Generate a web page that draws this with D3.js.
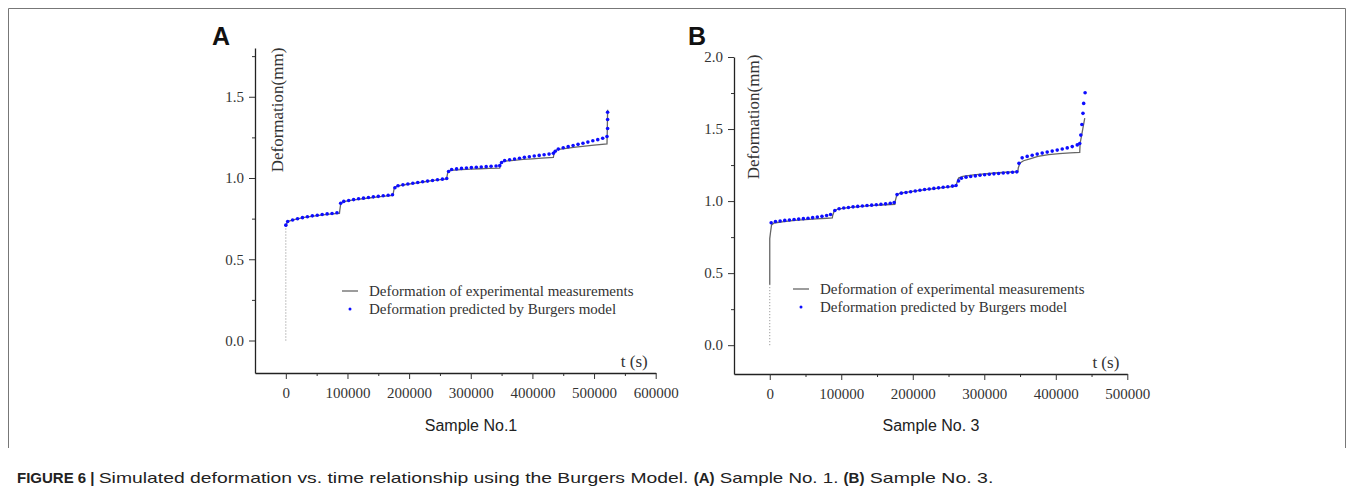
<!DOCTYPE html>
<html>
<head>
<meta charset="utf-8">
<script src="https://cdn.jsdelivr.net/npm/d3@7"></script>
<style>
  body { margin: 0; background: #fff; }
  svg { display: block; }
</style>
</head>
<body>
<div id="chart"></div>
<script>
// ---- data ----
// Sample No.1 : experimental curve, [t (s), deformation (mm)]
const expA = [[0,0.70],[2000,0.725],[5000,0.735],[15000,0.745],[30000,0.758],[45000,0.766],[60000,0.773],[75000,0.779],[87000,0.782],
  [87500,0.80],[89000,0.84],[92000,0.853],[105000,0.862],[120000,0.870],[135000,0.877],[150000,0.884],[165000,0.890],[174000,0.893],
  [174500,0.91],[176000,0.94],[180000,0.950],[195000,0.960],[210000,0.969],[225000,0.977],[240000,0.985],[255000,0.991],[261000,0.994],
  [261500,1.01],[263000,1.04],[268000,1.047],[285000,1.052],[300000,1.055],[315000,1.057],[330000,1.059],[347000,1.061],
  [347500,1.075],[349000,1.095],[353000,1.103],[370000,1.109],[385000,1.114],[400000,1.118],[415000,1.122],[434000,1.127],
  [434500,1.14],[436000,1.165],[440000,1.174],[455000,1.182],[470000,1.190],[485000,1.196],[500000,1.202],[521000,1.210],
  [521500,1.30],[522000,1.42]];
// initial loading (dotted)
const loadA = [[0,0],[0,0.70]];
// Sample No.1 : Burgers model prediction
const modA = [[0,0.71],[3000,0.732],[11000,0.742],[19000,0.749],[27000,0.756],[35000,0.762],[43000,0.767],[51000,0.771],[59000,0.775],[67000,0.779],[75000,0.782],[83000,0.786],
  [89000,0.845],[94000,0.856],[102000,0.862],[110000,0.867],[118000,0.872],[126000,0.876],[134000,0.880],[142000,0.884],[150000,0.887],[158000,0.891],[166000,0.894],[173000,0.897],
  [177000,0.94],[182000,0.952],[190000,0.958],[198000,0.963],[206000,0.968],[214000,0.972],[222000,0.977],[230000,0.981],[238000,0.985],[246000,0.989],[254000,0.993],[261000,0.997],
  [264000,1.04],[269000,1.052],[277000,1.056],[285000,1.059],[293000,1.062],[301000,1.064],[309000,1.066],[317000,1.068],[325000,1.070],[333000,1.072],[341000,1.074],[347000,1.076],
  [350000,1.095],[355000,1.107],[363000,1.112],[371000,1.117],[379000,1.122],[387000,1.127],[395000,1.131],[403000,1.135],[411000,1.139],[419000,1.143],[427000,1.147],[434000,1.152],
  [437000,1.165],[442000,1.178],[450000,1.186],[458000,1.193],[466000,1.200],[474000,1.207],[482000,1.214],[490000,1.221],[498000,1.229],[506000,1.236],[514000,1.245],[521000,1.255],
  [522000,1.305],[522000,1.36],[522000,1.405]];

// Sample No.3
const loadB = [[0,0],[0,0.42]];
const expB = [[0,0.42],[0,0.74],[1000,0.78],[2500,0.835],[6000,0.848],[20000,0.858],[35000,0.866],[50000,0.872],[65000,0.877],[80000,0.881],[87500,0.883],
  [88000,0.90],[90000,0.93],[95000,0.945],[110000,0.955],[125000,0.962],[140000,0.968],[155000,0.973],[175000,0.978],
  [175500,1.00],[177500,1.04],[182000,1.055],[200000,1.068],[215000,1.078],[230000,1.087],[245000,1.095],[261000,1.104],
  [261500,1.125],[264000,1.16],[270000,1.172],[285000,1.182],[300000,1.189],[315000,1.195],[330000,1.200],[347000,1.204],
  [347500,1.23],[350000,1.265],[355000,1.28],[365000,1.295],[375000,1.31],[390000,1.322],[405000,1.329],[420000,1.334],[433500,1.338],
  [434000,1.40],[437000,1.48],[440500,1.575]];
const modB = [[2000,0.85],[8000,0.858],[14500,0.862],[21000,0.866],[27500,0.869],[34000,0.872],[40500,0.875],[47000,0.878],[53500,0.881],[60000,0.885],[66500,0.889],[73000,0.894],[79500,0.900],[85000,0.907],
  [91000,0.935],[97000,0.947],[103500,0.952],[110000,0.956],[116500,0.960],[123000,0.963],[129500,0.966],[136000,0.969],[142500,0.972],[149000,0.975],[155500,0.978],[162000,0.981],[168500,0.985],[174000,0.990],
  [178000,1.045],[184000,1.055],[190500,1.060],[197000,1.065],[203500,1.070],[210000,1.075],[216500,1.080],[223000,1.084],[229500,1.088],[236000,1.092],[242500,1.096],[249000,1.100],[255500,1.104],[260500,1.108],
  [264000,1.14],[268000,1.158],[274500,1.166],[281000,1.171],[287500,1.175],[294000,1.179],[300500,1.183],[307000,1.186],[313500,1.189],[320000,1.192],[326500,1.195],[333000,1.197],[339500,1.200],[345500,1.203],
  [348500,1.262],[353000,1.300],[360000,1.310],[367000,1.318],[374000,1.326],[381000,1.333],[388000,1.340],[395000,1.347],[402000,1.354],[409000,1.361],[416000,1.369],[423000,1.378],[430000,1.390],[433500,1.40],
  [435000,1.458],[436500,1.532],[438000,1.609],[439000,1.678],[441000,1.752]];

const xTicksA = [0,100000,200000,300000,400000,500000,600000];
const xTicksB = [0,100000,200000,300000,400000,500000];
const yTicksA = [0,0.5,1.0,1.5];
const yTicksB = [0,0.5,1.0,1.5,2.0];
const legendLabels = ["Deformation of experimental measurements", "Deformation predicted by Burgers model"];

const width = 1354, height = 501;
const serif = "'Liberation Serif', 'Times New Roman', serif";
const sans = "'Liberation Sans', Arial, sans-serif";
const blue = "#0d0dff";

let svg = d3.select("#chart").append("svg")
  .attr("width", width).attr("height", height);

// frame round the figure
svg.append("path")
  .attr("d", "M8.5,448 V8.5 H1345.5 V448")
  .attr("fill", "none").attr("stroke", "#777").attr("stroke-width", 1);

function panel(o) {
  let x = d3.scaleLinear().domain(o.xDom).range(o.xRange);
  let y = d3.scaleLinear().domain(o.yDom).range(o.yRange);
  let g = svg.append("g");

  // minor ticks
  let xMinor = d3.range(50000, o.xDom[1], 100000);
  let yMinor = d3.range(0.25, o.yDom[1], 0.5);

  let bottom = o.yRange[0], left = o.xRange[0];

  g.append("g").attr("transform", `translate(0,${bottom})`)
    .call(d3.axisBottom(x).tickValues(xMinor).tickSize(3).tickFormat(""))
    .call(a => a.select(".domain").remove());
  g.append("g").attr("transform", `translate(${left},0)`)
    .call(d3.axisLeft(y).tickValues(yMinor).tickSize(3).tickFormat(""))
    .call(a => a.select(".domain").remove());

  let xa = g.append("g").attr("transform", `translate(0,${bottom})`)
    .call(d3.axisBottom(x).tickValues(o.xTicks).tickSize(6).tickSizeOuter(0).tickPadding(8).tickFormat(d3.format("d")));
  let ya = g.append("g").attr("transform", `translate(${left},0)`)
    .call(d3.axisLeft(y).tickValues(o.yTicks).tickSize(6).tickSizeOuter(0).tickPadding(5).tickFormat(d3.format(".1f")));

  g.selectAll(".tick line").attr("stroke", "#333");
  g.selectAll(".domain").attr("stroke", "#222").attr("stroke-width", 1.3);
  [xa, ya].forEach(a => a.selectAll("text")
    .attr("font-family", serif).attr("font-size", 15).attr("fill", "#333"));

  // axis titles
  g.append("text")
    .attr("transform", `translate(${o.yLabelX},${o.yLabelY}) rotate(-90)`)
    .attr("text-anchor", "middle").attr("dominant-baseline", "central")
    .attr("font-family", serif).attr("font-size", 17).attr("fill", "#333")
    .text("Deformation(mm)");
  g.append("text")
    .attr("x", o.xRange[1] - 8).attr("y", bottom - 6)
    .attr("text-anchor", "end")
    .attr("font-family", serif).attr("font-size", 17).attr("fill", "#333")
    .text("t (s)");

  // initial loading, dotted gray
  let line = d3.line().x(d => x(d[0])).y(d => y(d[1]));
  g.append("path").datum(o.load)
    .attr("d", line).attr("fill", "none")
    .attr("stroke", "#888").attr("stroke-width", 1).attr("stroke-dasharray", "1,2");

  // experimental curve
  g.append("path").datum(o.exp)
    .attr("d", line).attr("fill", "none")
    .attr("stroke", "#666").attr("stroke-width", 1.3);

  // model points
  g.selectAll(".pt").data(o.mod).join("circle")
    .attr("class", "pt")
    .attr("cx", d => x(d[0])).attr("cy", d => y(d[1]))
    .attr("r", 1.8).attr("fill", blue);

  // legend
  let lg = g.append("g").attr("transform", `translate(${o.legend[0]},${o.legend[1]})`);
  lg.append("line").attr("x1", 0).attr("x2", 16).attr("y1", 0).attr("y2", 0)
    .attr("stroke", "#666").attr("stroke-width", 1.3);
  lg.append("circle").attr("cx", 8).attr("cy", 18).attr("r", 1.5).attr("fill", blue);
  lg.selectAll(".lt").data(legendLabels).join("text")
    .attr("class", "lt")
    .attr("x", 27).attr("y", (d, i) => i * 18)
    .attr("dominant-baseline", "central")
    .attr("font-family", serif).attr("font-size", 15).attr("fill", "#333")
    .text(d => d);

  // panel letter and sample name
  svg.append("text").attr("x", o.letter[0]).attr("y", o.letter[1])
    .attr("font-family", sans).attr("font-weight", "bold").attr("font-size", 25).attr("fill", "#111")
    .text(o.letterText);
  svg.append("text").attr("x", o.sample[0]).attr("y", o.sample[1])
    .attr("text-anchor", "middle")
    .attr("font-family", sans).attr("font-size", 16).attr("fill", "#222")
    .text(o.sampleText);
}

panel({
  xDom: [-50000, 600000], xRange: [255, 655.7],
  yDom: [-0.2, 1.8], yRange: [373, 48],
  xTicks: xTicksA, yTicks: yTicksA,
  load: loadA, exp: expA, mod: modA,
  yLabelX: 277, yLabelY: 110,
  legend: [342, 291],
  letter: [212, 45], letterText: "A",
  sample: [471, 431], sampleText: "Sample No.1"
});

panel({
  xDom: [-50000, 500000], xRange: [734, 1127.3],
  yDom: [-0.2, 2.0], yRange: [374, 57],
  xTicks: xTicksB, yTicks: yTicksB,
  load: loadB, exp: expB, mod: modB,
  yLabelX: 753, yLabelY: 117,
  legend: [793, 289],
  letter: [688, 45], letterText: "B",
  sample: [931, 431], sampleText: "Sample No. 3"
});

// caption: the regular parts are set wider than the bold parts in the original
const captionParts = [
  ["FIGURE 6 | ", true], ["Simulated deformation vs. time relationship using the Burgers Model. ", false],
  ["(A)", true], [" Sample No. 1. ", false], ["(B)", true], [" Sample No. 3.", false]
];
let cap = svg.append("text").attr("x", 17).attr("y", 483)
  .attr("font-family", sans).attr("font-size", 15).attr("fill", "#222");
captionParts.forEach(([t, bold]) => {
  let ts = cap.append("tspan").attr("font-weight", bold ? "bold" : "normal").text(t);
  if (!bold) {
    let L = ts.node().getComputedTextLength();
    ts.attr("textLength", L * 1.3).attr("lengthAdjust", "spacingAndGlyphs");
  }
});
</script>
</body>
</html>
